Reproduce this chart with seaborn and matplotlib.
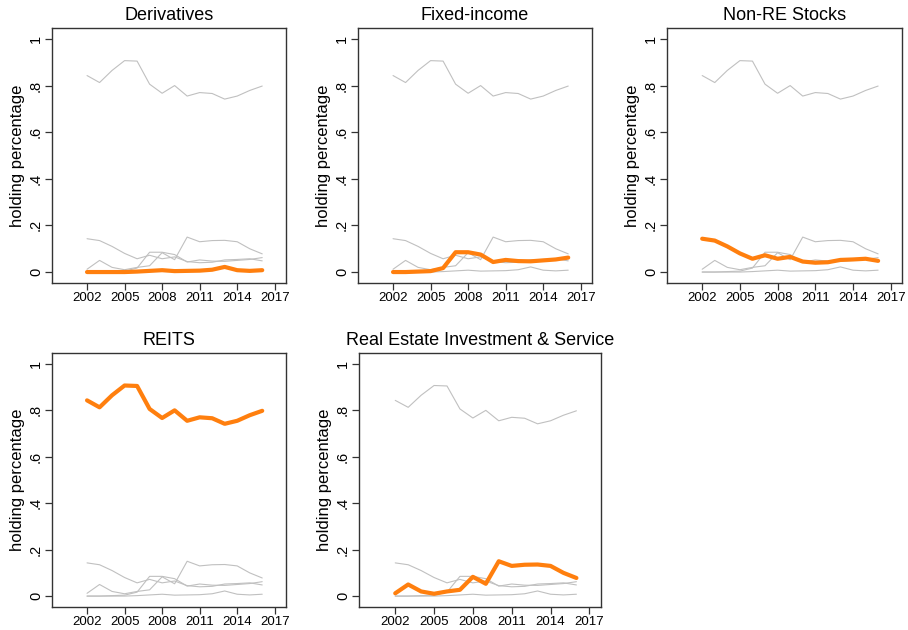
import numpy as np
import pandas as pd
import matplotlib
matplotlib.use("Agg")
import matplotlib.pyplot as plt
import seaborn as sns

sns.set_theme(style="ticks")
plt.rcParams['font.family'] = ['Liberation Sans', 'DejaVu Sans']
plt.rcParams['text.color'] = 'black'
plt.rcParams['axes.labelcolor'] = 'black'

years = list(range(2002, 2017))
derivatives = [0.0, 0.0, 0.0, 0.0, 0.002, 0.005, 0.008, 0.004, 0.005, 0.006, 0.010, 0.022, 0.008, 0.005, 0.008]
fixed_income = [0.0, 0.0, 0.002, 0.004, 0.017, 0.085, 0.085, 0.075, 0.043, 0.052, 0.047, 0.046, 0.050, 0.054, 0.062]
non_re_stocks = [0.143, 0.135, 0.110, 0.080, 0.057, 0.072, 0.057, 0.065, 0.045, 0.040, 0.042, 0.052, 0.054, 0.057, 0.048]
reits = [0.843, 0.813, 0.865, 0.907, 0.905, 0.806, 0.767, 0.800, 0.755, 0.770, 0.766, 0.742, 0.755, 0.779, 0.798]
reis = [0.012, 0.050, 0.020, 0.010, 0.020, 0.027, 0.083, 0.053, 0.150, 0.130, 0.135, 0.136, 0.130, 0.100, 0.078]

names = ["Derivatives", "Fixed-income", "Non-RE Stocks", "REITS",
         "Real Estate Investment & Service"]
series = [derivatives, fixed_income, non_re_stocks, reits, reis]

frames = []
for n, s in zip(names, series):
    frames.append(pd.DataFrame({"year": years, "share": s, "type": n}))
df = pd.concat(frames, ignore_index=True)

xticks = [2002, 2005, 2008, 2011, 2014, 2017]
yticks = [0, 0.2, 0.4, 0.6, 0.8, 1.0]
ylabels = ["0", ".2", ".4", ".6", ".8", "1"]

W, H = 908, 630
fig = plt.figure(figsize=(W / 100, H / 100), dpi=100)

# panel boxes in pixels: left, right, top, bottom
boxes = [
    (52, 286, 28, 283),
    (358, 592, 28, 283),
    (667, 902, 28, 283),
    (52, 286, 353, 607),
    (359, 601, 353, 607),
]

for name, (l, r, t, b) in zip(names, boxes):
    ax = fig.add_axes([l / W, 1 - b / H, (r - l) / W, (b - t) / H])
    for other in names:
        if other == name:
            continue
        sns.lineplot(data=df[df["type"] == other], x="year", y="share", ax=ax,
                     color="#c0c0c0", linewidth=0.8, legend=False)
    sns.lineplot(data=df[df["type"] == name], x="year", y="share", ax=ax,
                 color="#ff7f0e", linewidth=3.0, legend=False)
    ax.set_xlim(1999.2, 2017.9)
    ax.set_ylim(-0.047, 1.047)
    ax.set_xticks(xticks)
    ax.set_xticklabels([str(x) for x in xticks], fontsize=9.5)
    ax.set_yticks(yticks)
    ax.set_yticklabels(ylabels, fontsize=10.5, rotation=90, va="center")
    ax.set_xlabel("")
    ax.set_ylabel("holding percentage", fontsize=12, labelpad=3, color="black")
    ax.set_title(name, fontsize=13, pad=6, color="black")
    for sp in ax.spines.values():
        sp.set_visible(True)
        sp.set_color("#333333")
        sp.set_linewidth(1.0)
    ax.tick_params(axis="both", direction="out", length=5, width=0.9,
                   color="#333333", labelcolor="black", pad=1.5)

fig.savefig("out.png", dpi=100)
